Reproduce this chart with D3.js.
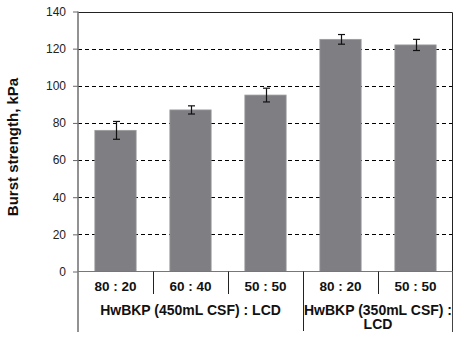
<!DOCTYPE html>
<html>
<head>
<meta charset="utf-8">
<script src="https://cdn.jsdelivr.net/npm/d3@7"></script>
<style>
  html, body { margin: 0; padding: 0; background: #fff; }
  svg { display: block; font-family: Arial, "Liberation Sans", sans-serif; }
</style>
</head>
<body>
<svg id="chart" width="460" height="338"></svg>
<script>
// Burst strength of handsheets by pulp blend ratio
const ratios = ["80 : 20", "60 : 40", "50 : 50", "80 : 20", "50 : 50"];
const burst = [76, 87, 95, 125, 122];
const burstErr = [4.8, 2.2, 3.7, 2.6, 3.0];
const groupLabels = [["HwBKP (450mL CSF) : LCD"], ["HwBKP (350mL CSF) :", "LCD"]];
const groupSizes = [3, 2];
const yTicks = [0, 20, 40, 60, 80, 100, 120, 140];

const svg = d3.select("#chart");
const m = { left: 78, right: 453, top: 11.5, bottom: 271.5 };

const x = d3.scaleBand().domain(d3.range(ratios.length)).range([m.left, m.right]).paddingInner(0.45).paddingOuter(0.225);
const y = d3.scaleLinear().domain([0, 140]).range([m.bottom, m.top]);

// dashed gridlines
svg.append("g").selectAll("line").data(yTicks.filter(t => t > 0 && t < 140)).join("line")
  .attr("x1", m.left).attr("x2", m.right)
  .attr("y1", d => Math.round(y(d)) + 0.5).attr("y2", d => Math.round(y(d)) + 0.5)
  .attr("stroke", "#000").attr("stroke-width", 1).attr("stroke-dasharray", "4,3");

// plot frame: top and right
svg.append("path")
  .attr("d", `M${m.left},${Math.round(y(140)) + 0.5}H${m.right - 0.5}V${m.bottom}`)
  .attr("fill", "none").attr("stroke", "#222").attr("stroke-width", 1);

// bars
svg.append("g").selectAll("rect").data(burst).join("rect")
  .attr("x", (d, i) => x(i)).attr("width", x.bandwidth())
  .attr("y", d => y(d)).attr("height", d => y(0) - y(d))
  .attr("fill", "#7f7f83").attr("stroke", "#9a9a9e").attr("stroke-width", 0.8);

// error bars
const eb = svg.append("g").attr("stroke", "#111").attr("stroke-width", 1.2);
burst.forEach((v, i) => {
  const cx = Math.round(x(i) + x.bandwidth() / 2) + 0.5;
  const e = burstErr[i];
  eb.append("line").attr("x1", cx).attr("x2", cx).attr("y1", y(v + e)).attr("y2", y(v - e));
  [v + e, v - e].forEach(t => eb.append("line").attr("x1", cx - 3.5).attr("x2", cx + 3.5).attr("y1", y(t)).attr("y2", y(t)));
});

// y axis
const yAxis = d3.axisLeft(y).tickValues(yTicks).tickSize(5).tickPadding(7);
const ya = svg.append("g").attr("transform", `translate(${m.left},0)`).call(yAxis);
ya.select(".domain").remove();
ya.selectAll(".tick line").attr("stroke", "#666");
ya.selectAll(".tick text").attr("font-size", 12).attr("fill", "#222").attr("font-family", "Arial, 'Liberation Sans', sans-serif");

// axis lines
svg.append("line").attr("x1", m.left).attr("x2", m.left).attr("y1", m.top).attr("y2", 332)
  .attr("stroke", "#777").attr("stroke-width", 1.6);
svg.append("line").attr("x1", m.left).attr("x2", m.right).attr("y1", m.bottom).attr("y2", m.bottom)
  .attr("stroke", "#777").attr("stroke-width", 1.2);
svg.append("line").attr("x1", m.right - 0.5).attr("x2", m.right - 0.5).attr("y1", m.bottom).attr("y2", 332)
  .attr("stroke", "#444").attr("stroke-width", 1);

// category separators below axis
const step = x.step();
let idx = 0;
const groupStarts = [];
groupSizes.forEach(n => { groupStarts.push(idx); idx += n; });
for (let i = 1; i < ratios.length; i++) {
  const sx = Math.round(m.left + i * step) + 0.5;
  const isGroup = groupStarts.includes(i);
  svg.append("line").attr("x1", sx).attr("x2", sx).attr("y1", m.bottom).attr("y2", isGroup ? 331 : 294)
    .attr("stroke", "#222").attr("stroke-width", 1);
}

// ratio labels
svg.append("g").selectAll("text").data(ratios).join("text")
  .attr("x", (d, i) => x(i) + x.bandwidth() / 2).attr("y", 291)
  .attr("text-anchor", "middle").attr("font-size", 13.5).attr("font-weight", "bold").attr("fill", "#111")
  .text(d => d);

// group labels
groupLabels.forEach((lines, g) => {
  const start = groupStarts[g];
  const cx = m.left + (start + groupSizes[g] / 2) * step;
  lines.forEach((ln, k) => {
    svg.append("text").attr("x", cx).attr("y", 314.5 + k * 14.5)
      .attr("text-anchor", "middle").attr("font-size", 14).attr("font-weight", "bold")
      .attr("fill", "#111").text(ln);
  });
});

// y axis title
svg.append("text").attr("transform", "translate(18,147) rotate(-90)")
  .attr("text-anchor", "middle").attr("font-size", 15).attr("font-weight", "bold").attr("fill", "#111")
  .text("Burst strength, kPa");
</script>
</body>
</html>
